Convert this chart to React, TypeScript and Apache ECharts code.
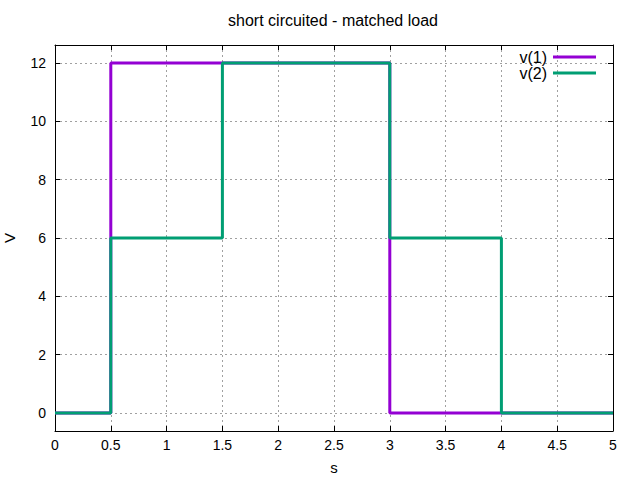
import React, { useEffect, useRef } from "react";
import * as echarts from "echarts";

const titleText = "short circuited - matched load";
const v1Times = [0, 0.5, 3, 5];
const v1Values = [0, 12, 0, 0];
const v2Times = [0, 0.5, 1.5, 3, 4, 5];
const v2Values = [0, 6, 12, 6, 0, 0];
const yTicks = [0, 2, 4, 6, 8, 10, 12];
const seriesNames = ["v(1)", "v(2)"];

const FONT = "Liberation Sans, Arial, sans-serif";

export default function App() {
  const ref = useRef<HTMLDivElement>(null);
  useEffect(() => {
    if (!ref.current) return;
    const chart = echarts.init(ref.current, null, { renderer: "svg" });
    const gridLine = { show: true, lineStyle: { color: "#a0a0a0", width: 1, type: [2, 3] as any } };
    const tickStyle = { show: true, inside: true, length: 5, lineStyle: { color: "#000", width: 1 } };
    chart.setOption({
      animation: false,
      backgroundColor: "#fff",
      title: {
        text: titleText,
        left: 333,
        textAlign: "center",
        top: 12,
        padding: 0,
        textStyle: { fontFamily: FONT, fontSize: 16, fontWeight: "normal", color: "#000" },
      },
      legend: {
        orient: "vertical",
        right: 44,
        top: 49,
        padding: 0,
        align: "right",
        itemWidth: 43,
        itemHeight: 3,
        itemGap: 0,
        icon: "rect",
        textStyle: { fontFamily: FONT, fontSize: 16, color: "#000", lineHeight: 15.6, padding: [0, 1, 0, 0] },
        data: seriesNames,
      },
      grid: { left: 55, right: 27, top: 45, bottom: 49, containLabel: false, outerBoundsMode: "none" },
      xAxis: [
        {
          type: "value",
          min: 0,
          max: 5,
          interval: 0.5,
          position: "bottom",
          name: "s",
          nameLocation: "middle",
          nameGap: 29,
          nameTextStyle: { fontFamily: FONT, fontSize: 15, color: "#000" },
          axisLine: { show: true, onZero: false, lineStyle: { color: "#000", width: 1 } },
          axisTick: tickStyle,
          axisLabel: { fontFamily: FONT, fontSize: 14, color: "#000", margin: 7, showMinLabel: true, showMaxLabel: true },
          splitLine: gridLine,
        },
        {
          type: "value",
          min: 0,
          max: 5,
          interval: 0.5,
          position: "top",
          axisLine: { show: true, onZero: false, lineStyle: { color: "#000", width: 1 } },
          axisTick: tickStyle,
          axisLabel: { show: false },
          splitLine: { show: false },
        },
      ],
      yAxis: [
        {
          type: "value",
          min: -0.62,
          max: 12.62,
          position: "left",
          name: "V",
          nameLocation: "middle",
          nameRotate: 90,
          nameGap: 38,
          nameTextStyle: { fontFamily: FONT, fontSize: 15, color: "#000" },
          axisLine: { show: true, onZero: false, lineStyle: { color: "#000", width: 1 } },
          axisTick: { ...tickStyle, customValues: yTicks },
          axisLabel: { fontFamily: FONT, fontSize: 14, color: "#000", margin: 9, customValues: yTicks },
          splitLine: gridLine,
        },
        {
          type: "value",
          min: -0.62,
          max: 12.62,
          position: "right",
          axisLine: { show: true, onZero: false, lineStyle: { color: "#000", width: 1 } },
          axisTick: { ...tickStyle, customValues: yTicks },
          axisLabel: { show: false, customValues: yTicks },
          splitLine: { show: false },
        },
      ],
      series: [
        {
          name: seriesNames[0],
          type: "line",
          step: "end",
          showSymbol: false,
          symbol: "none",
          color: "#9400d3",
          lineStyle: { width: 3, color: "#9400d3" },
          data: v1Times.map((t, i) => [t, v1Values[i]]),
          clip: false,
          z: 2,
        },
        {
          name: seriesNames[1],
          type: "line",
          step: "end",
          showSymbol: false,
          symbol: "none",
          color: "#009e73",
          lineStyle: { width: 3, color: "#009e73" },
          data: v2Times.map((t, i) => [t, v2Values[i]]),
          clip: false,
          z: 3,
        },
      ],
    });
    return () => chart.dispose();
  }, []);
  return <div ref={ref} style={{ width: 640, height: 480, position: "absolute", left: 0, top: 0 }} />;
}
